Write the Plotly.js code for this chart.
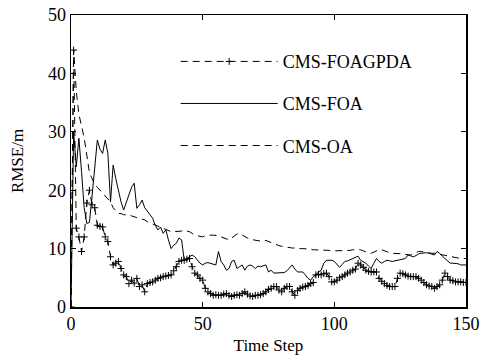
<!DOCTYPE html>
<html>
<head>
<meta charset="utf-8">
<script src="https://cdn.plot.ly/plotly-3.0.1.min.js"></script>
<style>html,body{margin:0;padding:0;background:#fff;}#chart{width:483px;height:360px;}</style>
</head>
<body>
<div id="chart"></div>
<script>
// Time steps 0..150
const steps = Array.from({length: 151}, (_, i) => i);

const seriesNames = ["CMS-FOAGPDA", "CMS-FOA", "CMS-OA"];

// CMS-FOAGPDA (dashed with + markers)
const foagpda = [
  0, 44, 13.5, 12, 9.5, 12, 17.8, 20, 17.5, 17,          // 0-9
  14, 13.8, 13.7, 12, 11.2, 8.6, 7.2, 7.5, 7.8, 6.6,      // 10-19
  5.5, 5.2, 4.0, 4.6, 4.1, 4.9, 3.5, 3.8, 2.6, 4.0,       // 20-29
  4.2, 4.3, 4.6, 4.9, 5.0, 5.2, 5.3, 5.4, 5.5, 6.2,       // 30-39
  6.9, 7.8, 8.0, 8.0, 8.2, 8.3, 6.9, 5.8, 5.5, 4.9,       // 40-49
  4.6, 3.2, 2.6, 2.3, 2.0, 2.1, 2.0, 2.0, 2.2, 2.3,       // 50-59
  2.0, 1.8, 2.0, 2.1, 2.0, 2.3, 2.6, 2.2, 1.9, 1.8,       // 60-69
  2.0, 2.0, 2.1, 2.3, 2.6, 3.0, 3.2, 3.5, 3.5, 2.9,       // 70-79
  2.6, 3.2, 3.5, 3.5, 2.6, 2.0, 2.8, 3.2, 3.4, 3.5,       // 80-89
  3.7, 4.0, 4.2, 5.5, 5.6, 5.5, 5.7, 5.8, 5.2, 4.3,       // 90-99
  4.3, 4.6, 5.0, 5.2, 5.5, 5.8, 6.0, 6.3, 6.5, 7.5,       // 100-109
  7.2, 6.8, 6.3, 6.1, 6.0, 6.0, 6.0, 4.9, 4.4, 4.0,       // 110-119
  3.7, 3.5, 3.5, 3.5, 4.9, 5.8, 5.7, 5.5, 5.3, 5.2,       // 120-129
  5.2, 5.2, 4.9, 4.6, 4.2, 3.8, 3.6, 3.5, 3.2, 3.5,       // 130-139
  3.8, 4.6, 5.8, 5.2, 4.6, 4.5, 4.3, 4.3, 4.3, 4.2,       // 140-149
  4.2                                                     // 150
];

// CMS-FOA (solid)
const foa = [
  0, 30, 24, 28.9, 23.2, 17, 14.3, 14.5, 19, 23.5,        // 0-9
  28.6, 27, 26.3, 28.6, 26.3, 18, 24.3, 22, 20, 18,       // 10-19
  16.6, 18, 19.2, 20.5, 21.2, 16.9, 17.5, 18.3, 17, 16.3, // 20-29
  15.8, 15.2, 14, 13.2, 13.7, 12.6, 13.2, 11.5, 10, 10.6, // 30-39
  10.9, 11.8, 11.5, 8.0, 8.3, 8.6, 8.9, 8.6, 8.0, 7.5,    // 40-49
  7.2, 7.5, 7.6, 7.5, 7.3, 7.2, 9.5, 7.8, 7.2, 6.3,       // 50-59
  6.6, 7.8, 8.0, 6.6, 6.9, 7.2, 6.3, 7.0, 7.2, 7.0,       // 60-69
  6.6, 7.0, 6.9, 7.0, 7.2, 6.0, 6.3, 5.8, 5.8, 5.8,       // 70-79
  5.8, 5.9, 6.2, 6.8, 7.2, 6.5, 6.0, 6.0, 6.0, 5.5,       // 80-89
  4.9, 4.6, 5.2, 5.5, 6.0, 6.3, 7.5, 8.0, 8.0, 8.0,       // 90-99
  7.8, 7.2, 6.8, 7.3, 7.8, 7.9, 8.1, 8.2, 8.4, 8.7,       // 100-109
  8.0, 7.8, 7.5, 7.0, 6.6, 7.5, 8.3, 7.8, 7.5, 7.8,       // 110-119
  8.0, 7.9, 7.8, 7.9, 8.0, 8.1, 8.2, 8.3, 8.9, 8.7,       // 120-129
  8.6, 8.8, 9.1, 9.2, 9.3, 9.3, 9.2, 9.0, 8.9, 9.5,       // 130-139
  9.2, 8.7, 8.3, 7.8, 7.5, 7.5, 7.5, 7.4, 7.2, 7.2,       // 140-149
  7.2                                                     // 150
];

// CMS-OA (dashed)
const oa = [
  0, 44, 37, 33, 31, 29, 26, 23, 22, 21,                  // 0-9
  20.5, 20, 19.5, 19, 18.5, 18, 17, 16.5, 16, 16,         // 10-19
  15.8, 15.8, 15.8, 15.6, 15.4, 15.3, 15.2, 15.1, 14.9, 14.6, // 20-29
  14.4, 14.2, 14, 13.8, 13.6, 13.4, 13.2, 13, 12.9, 12.9, // 30-39
  12.9, 12.9, 13, 13.1, 13, 12.9, 12.6, 12.3, 12.2, 12.1, // 40-49
  12, 12.2, 12.3, 12.3, 12.3, 12.3, 12.2, 12, 11.8, 11.6, // 50-59
  11.5, 11.8, 12.2, 12.5, 12.6, 12.3, 12, 11.8, 11.6, 11.5, // 60-69
  11.5, 11.3, 11.2, 11.2, 11.4, 11.2, 11, 10.8, 10.6, 10.5, // 70-79
  10.4, 10.3, 10.3, 10.2, 10.1, 10.1, 10, 10, 10, 10,     // 80-89
  9.9, 9.9, 9.8, 9.8, 9.8, 9.8, 9.7, 9.7, 9.7, 9.6,       // 90-99
  9.6, 9.6, 9.6, 9.6, 9.6, 9.7, 9.7, 9.8, 9.8, 9.8,       // 100-109
  9.8, 9.6, 9.4, 9.3, 9.2, 9.4, 9.6, 9.8, 9.8, 9.6,       // 110-119
  9.4, 9.3, 9.2, 9.2, 9.2, 9.2, 9.1, 9.0, 8.9, 8.9,       // 120-129
  9.1, 9.3, 9.5, 9.5, 9.4, 9.3, 9.2, 9.2, 9.2, 9.1,       // 130-139
  9.0, 8.9, 8.8, 8.7, 8.6, 8.5, 8.4, 8.4, 8.3, 8.3,       // 140-149
  8.3                                                     // 150
];

const xTicks = [0, 50, 100, 150];
const yTicks = [0, 10, 20, 30, 40, 50];

const fontFam = 'Liberation Serif, Times New Roman, serif';

const traces = [
  {x: steps, y: foagpda, name: seriesNames[0], type: 'scatter', mode: 'lines+markers',
   line: {color: '#000', width: 1, dash: '7px,5px'},
   marker: {symbol: 'cross-thin-open', size: 5, color: '#000', line: {color: '#000', width: 1}},
   legend: 'legend'},
  {x: steps, y: foa, name: seriesNames[1], type: 'scatter', mode: 'lines',
   line: {color: '#000', width: 1}, legend: 'legend2'},
  {x: steps, y: oa, name: seriesNames[2], type: 'scatter', mode: 'lines',
   line: {color: '#000', width: 1, dash: '7px,5px'}, legend: 'legend3'}
];

const legBase = {
  xref: 'paper', yref: 'paper', xanchor: 'left', yanchor: 'middle',
  bgcolor: 'rgba(0,0,0,0)', borderwidth: 0, itemwidth: 97,
  font: {family: fontFam, size: 18, color: '#000'}
};

const layout = {
  width: 483, height: 360,
  margin: {l: 71, r: 17, t: 15, b: 53},
  paper_bgcolor: '#fff', plot_bgcolor: '#fff',
  font: {family: fontFam, size: 18, color: '#000'},
  showlegend: true,
  legend: Object.assign({}, legBase, {x: 0.265, y: 0.84}),
  legend2: Object.assign({}, legBase, {x: 0.265, y: 0.696}),
  legend3: Object.assign({}, legBase, {x: 0.265, y: 0.552}),
  xaxis: {
    range: [0, 150], tickvals: xTicks, ticktext: xTicks.map(String),
    ticks: 'inside', ticklen: 5, tickwidth: 1, tickcolor: '#000',
    showline: true, linecolor: '#000', linewidth: 1.5, mirror: 'ticks',
    showgrid: false, zeroline: false,
    tickfont: {family: fontFam, size: 18, color: '#000'},
    title: {text: 'Time Step', font: {family: fontFam, size: 17, color: '#000'}, standoff: 6}
  },
  yaxis: {
    range: [0, 50], tickvals: yTicks, ticktext: yTicks.map(String),
    ticks: 'inside', ticklen: 5, tickwidth: 1, tickcolor: '#000',
    showline: true, linecolor: '#000', linewidth: 1.5, mirror: 'ticks',
    showgrid: false, zeroline: false,
    tickfont: {family: fontFam, size: 18, color: '#000'},
    title: {text: 'RMSE/m', font: {family: fontFam, size: 17, color: '#000'}, standoff: 20}
  }
};

Plotly.newPlot('chart', traces, layout, {displayModeBar: false, staticPlot: true});
</script>
</body>
</html>
